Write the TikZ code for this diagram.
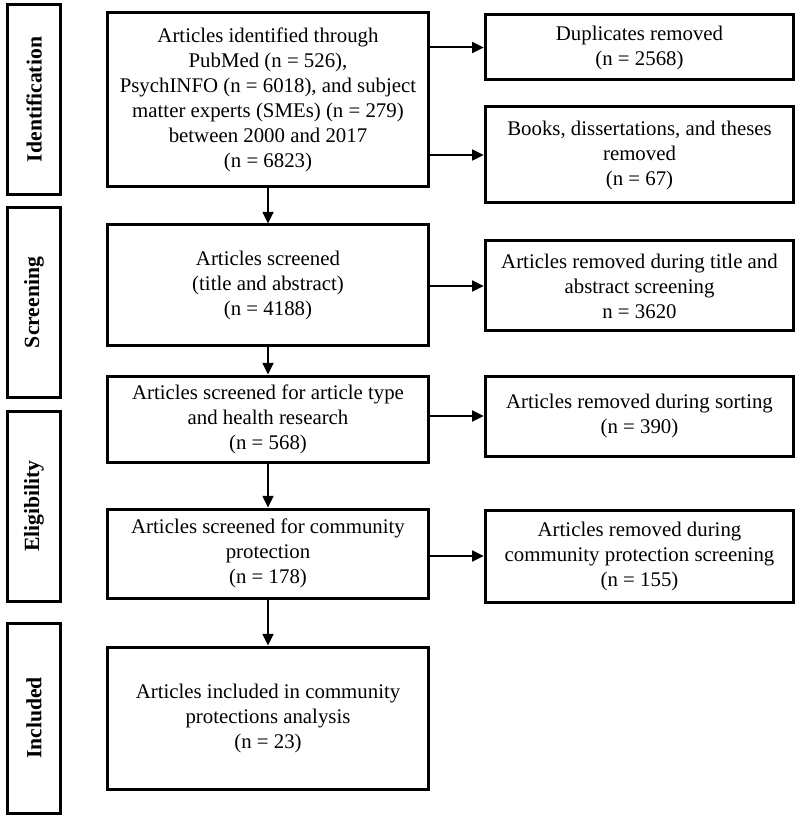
\documentclass[tikz,border=0pt]{standalone}
\usepackage{fontspec}
\setmainfont{Liberation Serif}
\usepackage{tikz}
\usetikzlibrary{arrows.meta}
\tikzstyle{stage} = [rectangle, 
rotate=90, 
minimum width=114pt, 
minimum height=32pt, 
text centered, 
draw=black, line width=1.8pt,
font=\fontsize{13}{15}\selectfont\bfseries]
\tikzstyle{process} = [rectangle, 
minimum width=193pt, 
text centered, 
align=center, 
draw=black, line width=1.8pt,
font=\fontsize{12.5}{15}\selectfont]
\tikzstyle{removed} = [rectangle, 
minimum width=185pt, 
text centered, 
align=center, 
draw=black, line width=1.8pt,
font=\fontsize{12.5}{15}\selectfont]
\tikzstyle{arrow} = [line width=1.2pt,-{Triangle[length=7pt,width=6.5pt]}]

\begin{document}
\begin{tikzpicture}[x=0.6pt, y=-0.6pt]
\useasboundingbox (0,0) rectangle (800,817);

% stages on the left
\node (ident) [stage] at (34,99.5) {Identification};
\node (screen) [stage] at (34,302.5) {Screening};
\node (elig) [stage] at (34,506) {Eligibility};
\node (incl) [stage] at (34,718) {Included};

% main flow
\node (found) [process, minimum height=104pt] at (268,99.5) {Articles identified through\\
PubMed (n = 526),\\
PsychINFO (n = 6018), and subject\\
matter experts (SMEs) (n = 279)\\
between 2000 and 2017\\
(n = 6823)};
\node (titleabs) [process, minimum height=72.6pt] at (268,285.5) {Articles screened\\
(title and abstract)\\
(n = 4188)};
\node (arttype) [process, minimum height=51.6pt] at (268,419) {Articles screened for article type\\
and health research\\
(n = 568)};
\node (commprot) [process, minimum height=53.4pt] at (268,553.5) {Articles screened for community\\
protection\\
(n = 178)};
\node (final) [process, minimum height=85.2pt] at (268,718) {Articles included in community\\
protections analysis\\
(n = 23)};

% removed on the right
\node (dupl) [removed, minimum height=39pt] at (639.5,47.5) {Duplicates removed\\
(n = 2568)};
\node (books) [removed, minimum height=57.6pt] at (639.5,155) {Books, dissertations, and theses\\
removed\\
(n = 67)};
\node (rmtitle) [removed, minimum height=54pt] at (639.5,286) {Articles removed during title and\\
abstract screening\\
n = 3620};
\node (rmsort) [removed, minimum height=48pt] at (639.5,416) {Articles removed during sorting\\
(n = 390)};
\node (rmcomm) [removed, minimum height=55.2pt] at (639.5,556) {Articles removed during\\
community protection screening\\
(n = 155)};

\draw [arrow] (found) -- (titleabs);
\draw [arrow] (titleabs) -- (arttype);
\draw [arrow] (arttype) -- (commprot);
\draw [arrow] (commprot) -- (final);

\draw [arrow] (found.east |- dupl) -- (dupl);
\draw [arrow] (found.east |- books) -- (books);
\draw [arrow] (titleabs.east |- rmtitle) -- (rmtitle);
\draw [arrow] (arttype.east |- rmsort) -- (rmsort);
\draw [arrow] (commprot.east |- rmcomm) -- (rmcomm);

\end{tikzpicture}
\end{document}
